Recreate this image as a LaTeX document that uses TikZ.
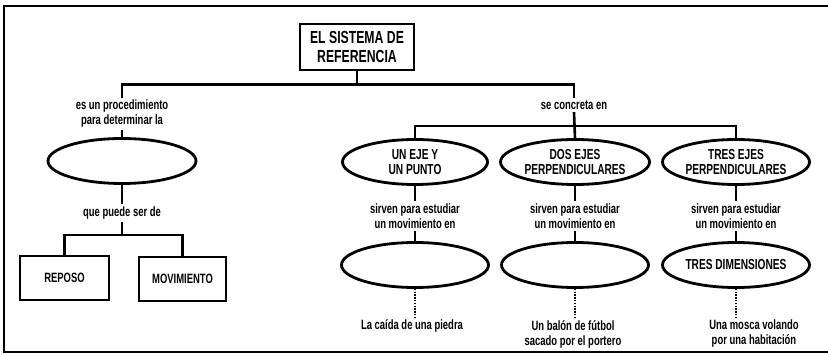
\documentclass[tikz,border=0pt]{standalone}
\usepackage{fontspec}
\setmainfont{Liberation Sans}[FakeStretch=0.70]
\usetikzlibrary{shapes.geometric,positioning}

\begin{document}
\begin{tikzpicture}[x=1pt, y=-1pt,
  rootbox/.style={rectangle, draw, line width=2.8pt, minimum width=114pt,
               minimum height=46pt, align=center, inner sep=2pt,
               font=\fontsize{17.5}{19}\selectfont\bfseries},
  bbox/.style={rectangle, draw, line width=2.8pt, minimum width=88pt,
               minimum height=44pt, font=\fontsize{13.5}{15}\selectfont\bfseries},
  oval/.style={ellipse, draw, line width=2.8pt, minimum width=147pt,
               minimum height=45pt, inner sep=0pt, align=center,
               font=\fontsize{14.5}{15}\selectfont\bfseries},
  lbl/.style={align=center, inner sep=2.5pt,
               font=\fontsize{13.5}{15}\selectfont\bfseries},
  link/.style={line width=2.6pt},
  dots/.style={line width=1.4pt, dash pattern=on 1.3pt off 1.5pt}
]
\useasboundingbox (0,0) rectangle (828,355);

% Frame (open on the right)
\draw[line width=2.8pt] (828,6) -- (4,6) -- (4,352) -- (828,352);

% Root
\node[rootbox] (root) at (357,47) {EL SISTEMA DE\\REFERENCIA};

% Left branch
\node[lbl] (proc)   at (122,114) {es un procedimiento\\para determinar la};
\node[oval, minimum width=148pt] (ellL) at (122,161) {};
\node[lbl] (puede)  at (122,213) {que puede ser de};
\node[bbox, minimum width=89pt] (reposo) at (64.5,278) {REPOSO};
\node[bbox, minimum width=87pt] (movim)  at (182.5,279) {MOVIMIENTO};

% Right branch
\node[lbl] (conc) at (574,105) {se concreta en};

\node[oval, minimum width=145pt] (ejeA) at (415,162) {UN EJE Y\\UN PUNTO};
\node[oval, minimum width=149pt] (ejeB) at (575,162) {DOS EJES\\PERPENDICULARES};
\node[oval]                      (ejeC) at (736,162) {TRES EJES\\PERPENDICULARES};

\node[lbl] (sirvA) at (415,216) {sirven para estudiar\\un movimiento en};
\node[lbl] (sirvB) at (575,216) {sirven para estudiar\\un movimiento en};
\node[lbl] (sirvC) at (736,216) {sirven para estudiar\\un movimiento en};

\node[oval, minimum width=147pt] (dimA) at (415,265) {};
\node[oval]                      (dimB) at (575,265) {};
\node[oval]                      (dimC) at (736,265) {TRES DIMENSIONES};

\node[lbl] (ejemA) at (412,326) {La caída de una piedra};
\node[lbl] (ejemB) at (573,334) {Un balón de fútbol\\sacado por el portero};
\node[lbl] (ejemC) at (754,334) {Una mosca volando\\por una habitación};

% Connectors
\draw[link] (root.south) -- ++(0,13) -| (proc.north);
\draw[link] (root.south) -- ++(0,13) -| (conc.north);
\draw[link] (proc.south) -- (ellL.north);
\draw[link] (ellL.south) -- (puede.north);
\draw[link] (puede.south) -- ++(0,13) -| (reposo.north);
\draw[link] (puede.south) -- ++(0,13) -| (movim.north);

\draw[link] (conc.south) -- ++(0,14) -| (ejeA.north);
\draw[link] (conc.south) -- ++(0,14) -| (ejeC.north);
\draw[link] (conc.south) -- (ejeB.north);

\foreach \k in {A,B,C} {
  \draw[link] (eje\k.south) -- (sirv\k.north);
  \draw[link] (sirv\k.south) -- (dim\k.north);
  \draw[dots] (dim\k.south) -- (dim\k.south |- ejem\k.north);
}
\end{tikzpicture}
\end{document}
